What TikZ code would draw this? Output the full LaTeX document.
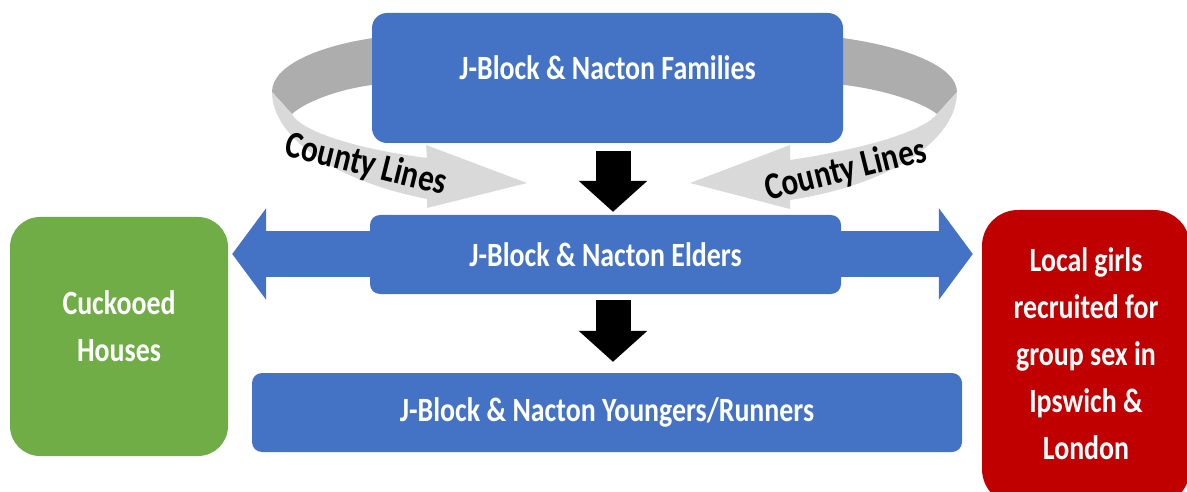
\documentclass[tikz,border=0pt]{standalone}
\usepackage{fontspec}
\setmainfont[FakeStretch=0.82]{Carlito}
\usetikzlibrary{arrows.meta, positioning}
\definecolor{gangBlue}{RGB}{68,114,196}
\definecolor{gangGreen}{RGB}{112,173,71}
\definecolor{gangRed}{RGB}{192,0,0}
\definecolor{ribbonDark}{RGB}{173,173,173}
\definecolor{ribbonLight}{RGB}{217,217,217}

\begin{document}
\begin{tikzpicture}[x=1pt, y=-1pt,
      tier/.style={rounded corners=10pt, fill=gangBlue, text=white, inner sep=0pt,
      font=\fontsize{34}{47}\selectfont\bfseries, align=center},
      side/.style={rounded corners=30pt, text=white, inner sep=0pt,
      font=\fontsize{34}{47}\selectfont\bfseries, align=center},
      down/.style={line width=35pt, draw=black, -{Triangle[length=31pt, width=67pt]}},
      spread/.style={line width=46pt, draw=gangBlue,
      {Triangle[length=34pt, width=90pt]}-{Triangle[length=34pt, width=90pt]}},
      ribbontext/.style={font=\fontsize{38}{40}\selectfont\bfseries}
    ]
    \useasboundingbox (0,0) rectangle (1187,492);

    % county lines ribbons, behind the families box
    \fill[ribbonDark] (380,37) .. controls (320,45) and (272,65) .. (272,92)
      -- (292,114) .. controls (305,102) and (340,88) .. (380,84) -- cycle;
    \fill[ribbonLight] (272,92) .. controls (272,135) and (330,180) .. (427,199)
      -- (427,208) -- (527,183) -- (426,145) -- (427,158)
      .. controls (350,148) and (300,130) .. (292,114) -- cycle;
    \fill[ribbonDark] (835,37) .. controls (900,45) and (957,65) .. (957,92)
      -- (937,114) .. controls (922,102) and (880,88) .. (835,84) -- cycle;
    \fill[ribbonLight] (957,92) .. controls (957,140) and (890,185) .. (790,200)
      -- (790,209) -- (690,183) -- (790,145) -- (790,160)
      .. controls (870,148) and (925,130) .. (937,114) -- cycle;
    \node[ribbontext, rotate=-14] (leftlines) at (366,165) {County Lines};
    \node[ribbontext, rotate=14] (rightlines) at (846,171) {County Lines};

    \node[tier, rounded corners=15pt, minimum width=471pt, minimum height=130pt,
      text height=22pt, text depth=18pt] (families) at (607.5,78) {J-Block \& Nacton Families};
    \node[side, fill=gangGreen, minimum width=218pt, minimum height=239pt,
      text depth=20pt] (cuckooed) at (119,336.5) {Cuckooed\\Houses};
    \node[side, fill=gangRed, rounded corners=36pt, minimum width=208pt, minimum height=295pt,
      text depth=8pt] (girls) at (1086,357.5) {Local girls\\recruited for\\group sex in\\Ipswich \&\\London};

    \draw[spread, shorten <=4pt, shorten >=9pt] (cuckooed.east |- 0,254) -- (girls.west |- 0,254);
    \node[tier, minimum width=471pt, minimum height=79pt] (elders) at (605.5,254.5) {J-Block \& Nacton Elders};
    \node[tier, minimum width=710pt, minimum height=79pt] (youngers) at (607,412.5) {J-Block \& Nacton Youngers/Runners};

    \draw[down] ([xshift=5.5pt, yshift=-8pt]families.south) -- ([xshift=7.5pt, yshift=3pt]elders.north);
    \draw[down] ([xshift=7.5pt, yshift=-6pt]elders.south) -- ([xshift=6pt, yshift=11pt]youngers.north);
  \end{tikzpicture}
\end{document}
